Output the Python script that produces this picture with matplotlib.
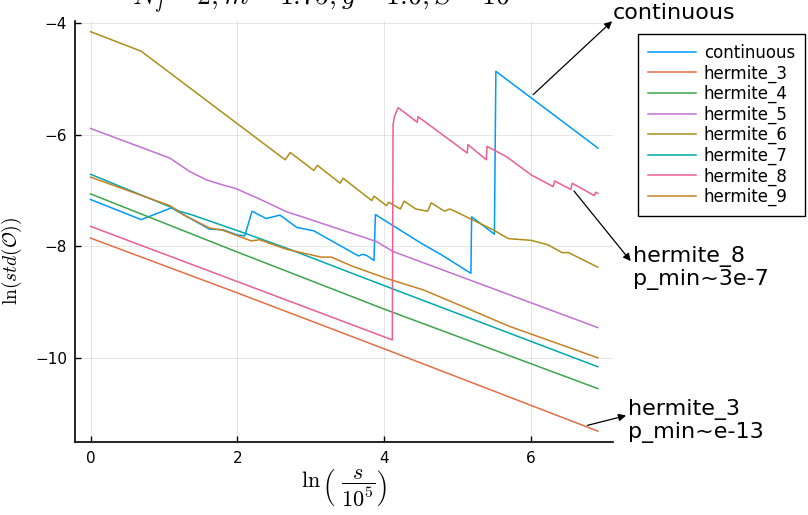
import matplotlib
matplotlib.use("Agg")
import matplotlib.pyplot as plt

plt.rcParams['font.family'] = ['DejaVu Sans']
plt.rcParams['mathtext.fontset'] = 'cm'

# ---- data (x = ln(s/1e5), y = ln(std(O))) ----
cont_x = [0, 0.69, 1.10, 1.62, 1.80, 1.99, 2.10, 2.20, 2.39, 2.58, 2.81, 3.04, 3.42, 3.65, 3.70, 3.76,
          3.86, 3.88, 4.22, 4.50, 4.78, 5.18, 5.19, 5.50, 5.52, 6.908]
cont_y = [-7.16, -7.52, -7.31, -7.69, -7.70, -7.79, -7.81, -7.37, -7.50, -7.44, -7.66, -7.72, -8.00, -8.17, -8.14, -8.16,
          -8.25, -7.43, -7.71, -7.94, -8.15, -8.48, -7.47, -7.78, -4.87, -6.24]

h3_x = [0, 2.0, 4.0, 6.908]
h3_y = [-7.85, -8.83, -9.83, -11.30]

h4_x = [0, 2.0, 4.0, 6.908]
h4_y = [-7.06, -8.10, -9.12, -10.54]

h5_x = [0, 1.08, 1.35, 1.58, 1.80, 1.97, 2.30, 2.67, 2.86, 3.89, 4.12, 6.908]
h5_y = [-5.89, -6.42, -6.66, -6.81, -6.90, -6.96, -7.15, -7.38, -7.46, -7.91, -8.09, -9.45]

h6_x = [0, 0.69, 2.65, 2.72, 3.04, 3.09, 3.40, 3.44, 3.83, 3.86, 4.03, 4.06, 4.22, 4.27, 4.43, 4.59,
        4.64, 4.82, 4.89, 5.01, 5.18, 5.48, 5.69, 6.0, 6.23, 6.42, 6.51, 6.908]
h6_y = [-4.16, -4.51, -6.45, -6.32, -6.64, -6.55, -6.87, -6.78, -7.18, -7.10, -7.27, -7.21, -7.33, -7.19, -7.33, -7.37,
        -7.22, -7.37, -7.33, -7.40, -7.51, -7.70, -7.86, -7.89, -7.97, -8.11, -8.11, -8.37]

h7_x = [0, 1.10, 1.21, 1.37, 2.03, 2.67, 3.98, 6.908]
h7_y = [-6.71, -7.30, -7.37, -7.43, -7.73, -8.03, -8.69, -10.15]

h8_x = [0, 4.11, 4.12, 4.14, 4.16, 4.19, 4.45, 4.46, 5.13, 5.14, 5.39, 5.40, 5.67, 6.0, 6.30, 6.32,
        6.54, 6.56, 6.86, 6.88, 6.908]
h8_y = [-7.64, -9.67, -5.82, -5.67, -5.61, -5.52, -5.78, -5.68, -6.33, -6.18, -6.45, -6.21, -6.40, -6.72, -6.93, -6.83,
        -6.98, -6.87, -7.09, -7.03, -7.05]

h9_x = [0, 1.08, 1.26, 1.62, 1.80, 2.19, 2.30, 2.67, 3.14, 3.28, 3.56, 4.03, 4.54, 5.01, 5.71, 6.908]
h9_y = [-6.76, -7.27, -7.43, -7.67, -7.71, -7.90, -7.88, -8.05, -8.19, -8.19, -8.35, -8.57, -8.78, -9.04, -9.43, -9.99]

labels = ["continuous", "hermite_3", "hermite_4", "hermite_5", "hermite_6", "hermite_7", "hermite_8", "hermite_9"]
colors = ["#009af9", "#e26f46", "#3da44d", "#c371d2", "#ac8e18", "#00a9ad", "#ed5e93", "#c68125"]
series = [(cont_x, cont_y), (h3_x, h3_y), (h4_x, h4_y), (h5_x, h5_y), (h6_x, h6_y), (h7_x, h7_y), (h8_x, h8_y), (h9_x, h9_y)]

W, H = 808, 515
fig = plt.figure(figsize=(W / 100, H / 100), dpi=100)
ax = fig.add_axes([75.3 / W, (H - 442.3) / H, (613 - 75.3) / W, (442.3 - 21) / H])

for (xs, ys), lab, c in zip(series, labels, colors):
    ax.plot(xs, ys, color=c, lw=1.1, label=lab)

ax.set_xlim(-0.207, 7.115)
ax.set_ylim(-11.50, -3.97)
ax.set_xticks([0, 2, 4, 6])
ax.set_yticks([-10, -8, -6, -4])
ax.grid(True, color='black', alpha=0.1, lw=0.7)
for s in ['top', 'right']:
    ax.spines[s].set_visible(False)
for s in ['left', 'bottom']:
    ax.spines[s].set_linewidth(1.2)
ax.tick_params(direction='in', length=4, width=1, labelsize=11, pad=6)

ax.set_xlabel(r"$\ln\left(\ \dfrac{s}{10^5}\right)$", fontsize=16, labelpad=1)
ax.set_ylabel(r"$\ln(std(\mathcal{O}))$", fontsize=14)
ax.yaxis.set_label_coords(-0.095, 0.43)

fig.text(321 / W, 1 - 5 / H, r"$N_f = 2, m = 1.75, g = 1.0, S = 10$", fontsize=20,
         ha='center', va='baseline')

leg = ax.legend(loc='upper left', bbox_to_anchor=(638 / W, 1 - 34 / H), bbox_transform=fig.transFigure,
                fontsize=12, frameon=True, fancybox=False, edgecolor='black', framealpha=1,
                handlelength=2.9, handletextpad=0.45, labelspacing=0.14, borderpad=0.6, borderaxespad=0)
leg.get_frame().set_linewidth(1.0)

arrow = dict(arrowstyle='-|>', color='black', lw=0.9, mutation_scale=11)
ax.annotate("", xy=(7.13, -3.94), xytext=(6.00, -5.32), arrowprops=arrow, annotation_clip=False)
ax.annotate("", xy=(7.38, -8.30), xytext=(6.56, -6.97), arrowprops=arrow, annotation_clip=False)
ax.annotate("", xy=(7.33, -11.01), xytext=(6.73, -11.21), arrowprops=arrow, annotation_clip=False)

fig.text(613 / W, 1 - 13 / H, "continuous", fontsize=16, ha='left', va='center')
fig.text(633 / W, 1 - 268 / H, "hermite_8\np_min~3e-7", fontsize=16, ha='left', va='center', linespacing=1.15)
fig.text(628 / W, 1 - 421 / H, "hermite_3\np_min~e-13", fontsize=16, ha='left', va='center', linespacing=1.15)

fig.savefig("out.png", dpi=100)
